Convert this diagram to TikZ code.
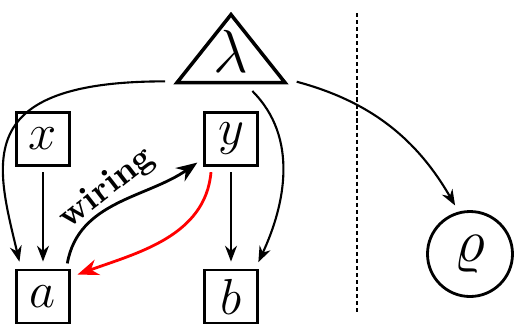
\documentclass[tikz,border=0pt]{standalone}
\usepackage{amsmath,amssymb}
\usetikzlibrary{shapes.geometric,arrows.meta}
\begin{document}
\begin{tikzpicture}[
    var/.style={draw, thick, minimum size=0.53cm, inner sep=0pt, font=\Large},
    fac/.style={draw, line width=1pt, isosceles triangle, isosceles triangle stretches,
        shape border rotate=90, minimum width=1.08cm, minimum height=0.68cm,
        inner sep=0pt},
    outv/.style={draw, thick, circle, minimum size=0.85cm, inner sep=0pt, font=\LARGE},
    edge/.style={-{Stealth[length=4.5pt, width=3.4pt]}, semithick,
        shorten >=2pt, shorten <=1.5pt},
    wire/.style={-{Stealth[length=6pt, width=4.6pt]}, thick,
        shorten >=2pt, shorten <=1.5pt}
  ]
  \useasboundingbox (0,0) rectangle (5.16,3.25);
  % nodes
  \node[fac, anchor=apex] (lam) at (2.31,3.15) {};
  \node[font=\LARGE, inner sep=0pt] (lamlbl) at ([yshift=-0.41cm]lam.apex) {$\lambda$};
  \node[var] (x) at (0.43,1.86) {$x$};
  \node[var] (y) at (2.31,1.86) {$y$};
  \node[var] (a) at (0.43,0.285) {$a$};
  \node[var] (b) at (2.31,0.285) {$b$};
  \node[outv] (rho) at (4.70,0.71) {$\varrho$};
  % divider
  \draw[thin, dash pattern=on 1.2pt off 0.8pt] (3.57,3.12) -- (3.57,0.10);
  % edges
  \draw[edge] ([shift={(-0.03,0.03)}]lam.left corner) .. controls +(-2.0,0) and +(-0.25,1.05)
    .. ([xshift=1.7pt]a.north west);
  \draw[edge] ([shift={(-0.4,-0.03)}]lam.right corner) to[out=-45, in=65]
    ([xshift=-1pt]b.north east);
  \draw[edge] ([shift={(0.03,0.04)}]lam.right corner) to[out=-15, in=120] (rho.105);
  \draw[edge] (x) -- (a);
  \draw[edge] (y) -- (b);
  \draw[wire] (a.50) to[out=80, in=215]
    node[pos=0.5, sloped, above, rotate=9, inner sep=0.5pt, font=\bfseries] {wiring} (y.215);
  \draw[wire, red] (y.235) to[out=-95, in=20] (a.35);
\end{tikzpicture}
\end{document}
